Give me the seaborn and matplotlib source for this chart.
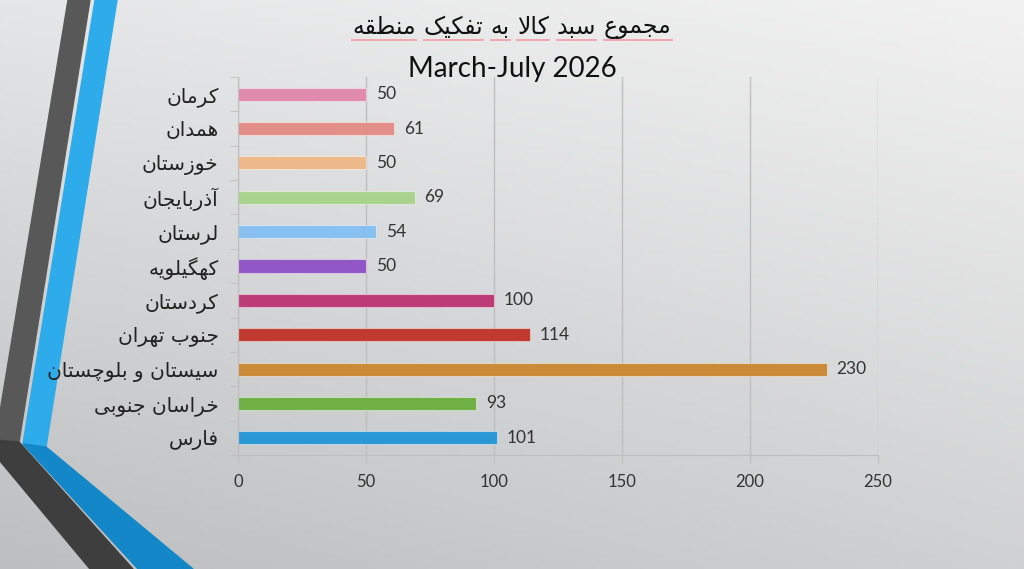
import numpy as np
import pandas as pd
import matplotlib
matplotlib.use("Agg")
import matplotlib.pyplot as plt
from matplotlib.patches import Polygon
import seaborn as sns

# Données du graphique (de haut en bas)
regions = ["کرمان", "همدان", "خوزستان", "آذربایجان", "لرستان", "کهگیلویه",
           "کردستان", "جنوب تهران", "سیستان و بلوچستان", "خراسان جنوبی", "فارس"]
values = [50, 61, 50, 69, 54, 50, 100, 114, 230, 93, 101]
colors = ["#E08AAD", "#E38E89", "#EDB98A", "#A9D38F", "#88C1F0", "#9257C6",
          "#BD3B77", "#C03A30", "#CB8A38", "#6FAF44", "#2A98D4"]
x_ticks = [0, 50, 100, 150, 200, 250]
title_fa = "مجموع سبد کالا به تفکیک منطقه"
title_en = "March-July 2026"

# Mise en forme des lettres persanes (formes de présentation + ordre visuel)
FORMS = {
    "ا": ("\uFE8D", "\uFE8E", None, None), "آ": ("\uFE81", "\uFE82", None, None),
    "ب": ("\uFE8F", "\uFE90", "\uFE91", "\uFE92"), "پ": ("\uFB56", "\uFB57", "\uFB58", "\uFB59"),
    "ت": ("\uFE95", "\uFE96", "\uFE97", "\uFE98"), "ج": ("\uFE9D", "\uFE9E", "\uFE9F", "\uFEA0"),
    "چ": ("\uFB7A", "\uFB7B", "\uFB7C", "\uFB7D"), "خ": ("\uFEA5", "\uFEA6", "\uFEA7", "\uFEA8"),
    "د": ("\uFEA9", "\uFEAA", None, None), "ذ": ("\uFEAB", "\uFEAC", None, None),
    "ر": ("\uFEAD", "\uFEAE", None, None), "ز": ("\uFEAF", "\uFEB0", None, None),
    "س": ("\uFEB1", "\uFEB2", "\uFEB3", "\uFEB4"), "ط": ("\uFEC1", "\uFEC2", "\uFEC3", "\uFEC4"),
    "ع": ("\uFEC9", "\uFECA", "\uFECB", "\uFECC"), "ف": ("\uFED1", "\uFED2", "\uFED3", "\uFED4"),
    "ق": ("\uFED5", "\uFED6", "\uFED7", "\uFED8"), "ک": ("\uFB8E", "\uFB8F", "\uFB90", "\uFB91"),
    "گ": ("\uFB92", "\uFB93", "\uFB94", "\uFB95"), "ل": ("\uFEDD", "\uFEDE", "\uFEDF", "\uFEE0"),
    "م": ("\uFEE1", "\uFEE2", "\uFEE3", "\uFEE4"), "ن": ("\uFEE5", "\uFEE6", "\uFEE7", "\uFEE8"),
    "ه": ("\uFEE9", "\uFEEA", "\uFEEB", "\uFEEC"), "و": ("\uFEED", "\uFEEE", None, None),
    "ی": ("\uFBFC", "\uFBFD", "\uFBFE", "\uFBFF"),
}
LAM_ALEF = {"ا": ("\uFEFB", "\uFEFC"), "آ": ("\uFEF5", "\uFEF6")}


def shape(text):
    out = []
    chars = list(text)
    i = 0
    while i < len(chars):
        c = chars[i]
        if c not in FORMS:
            out.append(c)
            i += 1
            continue
        prev = chars[i - 1] if i > 0 else None
        joins_prev = prev in FORMS and FORMS[prev][2] is not None
        nxt = chars[i + 1] if i + 1 < len(chars) else None
        if c == "ل" and nxt in LAM_ALEF:
            out.append(LAM_ALEF[nxt][1 if joins_prev else 0])
            i += 2
            continue
        joins_next = nxt in FORMS and FORMS[c][2] is not None
        iso, fin, ini, med = FORMS[c]
        if joins_prev and joins_next:
            out.append(med)
        elif joins_prev:
            out.append(fin)
        elif joins_next:
            out.append(ini)
        else:
            out.append(iso)
        i += 1
    return "".join(out)[::-1]


df = pd.DataFrame({"region": [shape(r) for r in regions], "value": values})

fig = plt.figure(figsize=(10.24, 5.69), dpi=100)

# Fond de diapositive
bg = fig.add_axes([0, 0, 1, 1], zorder=-10)
gx, gy = np.meshgrid(np.linspace(0, 1, 200), np.linspace(0, 1, 120))
tl, tr, bl, br = np.array([229, 230, 231]), np.array([242, 242, 242]), np.array([188, 190, 192]), np.array([208, 209, 210])
grad = ((1 - gy)[..., None] * ((1 - gx)[..., None] * tl + gx[..., None] * tr)
        + gy[..., None] * ((1 - gx)[..., None] * bl + gx[..., None] * br)) / 255
bg.imshow(grad, extent=[0, 1024, 569, 0], aspect="auto")
bg.add_patch(Polygon([(68, 0), (90, 0), (19, 442), (-5, 442)], color="#585858"))
bg.add_patch(Polygon([(95, 0), (117, 0), (46, 447), (23, 444)], color="#2EABEB"))
bg.add_patch(Polygon([(-5, 440), (19, 442), (133, 569), (90, 569), (-5, 455)], color="#3E3E3E"))
bg.add_patch(Polygon([(23, 444), (46, 447), (193, 569), (138, 569)], color="#1487C8"))
bg.set_xlim(0, 1024)
bg.set_ylim(569, 0)
bg.axis("off")

ax = fig.add_axes([238 / 1024, 1 - 455 / 569, 640 / 1024, 378 / 569])
ax.set_facecolor("none")
sns.barplot(data=df, x="value", y="region", hue="region", palette=colors, saturation=1,
            legend=False, width=0.38, orient="h", ax=ax,
            edgecolor=(1, 1, 1, 0.45), linewidth=0.8)

for cont in ax.containers:
    ax.bar_label(cont, padding=7, fontsize=12.5, color="#333333", family="Lato")

ax.set_xlim(0, 250)
ax.set_ylim(len(regions) - 0.5, -0.5)
ax.set_xticks(x_ticks)
ax.set_xticklabels([str(t) for t in x_ticks], fontsize=12, family="Lato", color="#333333")
ax.grid(axis="x", color="#BEBEBE", linewidth=1)
ax.set_axisbelow(True)
ax.tick_params(axis="x", length=6, color="#BEBEBE", pad=8)
ax.tick_params(axis="y", which="major", length=0, pad=14, labelsize=14.5, labelcolor="#222222")
ax.set_yticks(np.arange(len(regions) + 1) - 0.5, minor=True)
ax.tick_params(axis="y", which="minor", length=6, color="#BEBEBE")
for lab in ax.get_yticklabels():
    lab.set_family("DejaVu Sans")
for side in ["top", "right"]:
    ax.spines[side].set_visible(False)
for side in ["left", "bottom"]:
    ax.spines[side].set_color("#BEBEBE")
ax.set_xlabel("")
ax.set_ylabel("")

# Titre persan, mot par mot, avec le soulignement rouge du correcteur
words = shape(title_fa).split(" ")
renderer = fig.canvas.get_renderer()
title_kw = dict(fontsize=17, family="DejaVu Sans", color="#111111", va="center")
widths = []
for w in words:
    t = fig.text(0, 0, w, **title_kw)
    widths.append(t.get_window_extent(renderer).width)
    t.remove()
sp = fig.text(0, 0, "a a", **title_kw)
sp_w = sp.get_window_extent(renderer).width
sp.remove()
a = fig.text(0, 0, "aa", **title_kw)
sp_w -= a.get_window_extent(renderer).width
a.remove()
total = sum(widths) + sp_w * (len(words) - 1)
x0 = 512 - total / 2
for w, wd in zip(words, widths):
    fig.text(x0 / 1024, 1 - 27 / 569, w, ha="left", **title_kw)
    fig.add_artist(plt.Line2D([x0 / 1024, (x0 + wd) / 1024], [1 - 40 / 569] * 2,
                              color="#F2A0A8", linewidth=1.3))
    x0 += wd + sp_w

fig.text(0.5, 1 - 69 / 569, title_en, ha="center", va="center",
         fontsize=20, family="Lato", color="#111111")

fig.savefig("out.png", dpi=100)
